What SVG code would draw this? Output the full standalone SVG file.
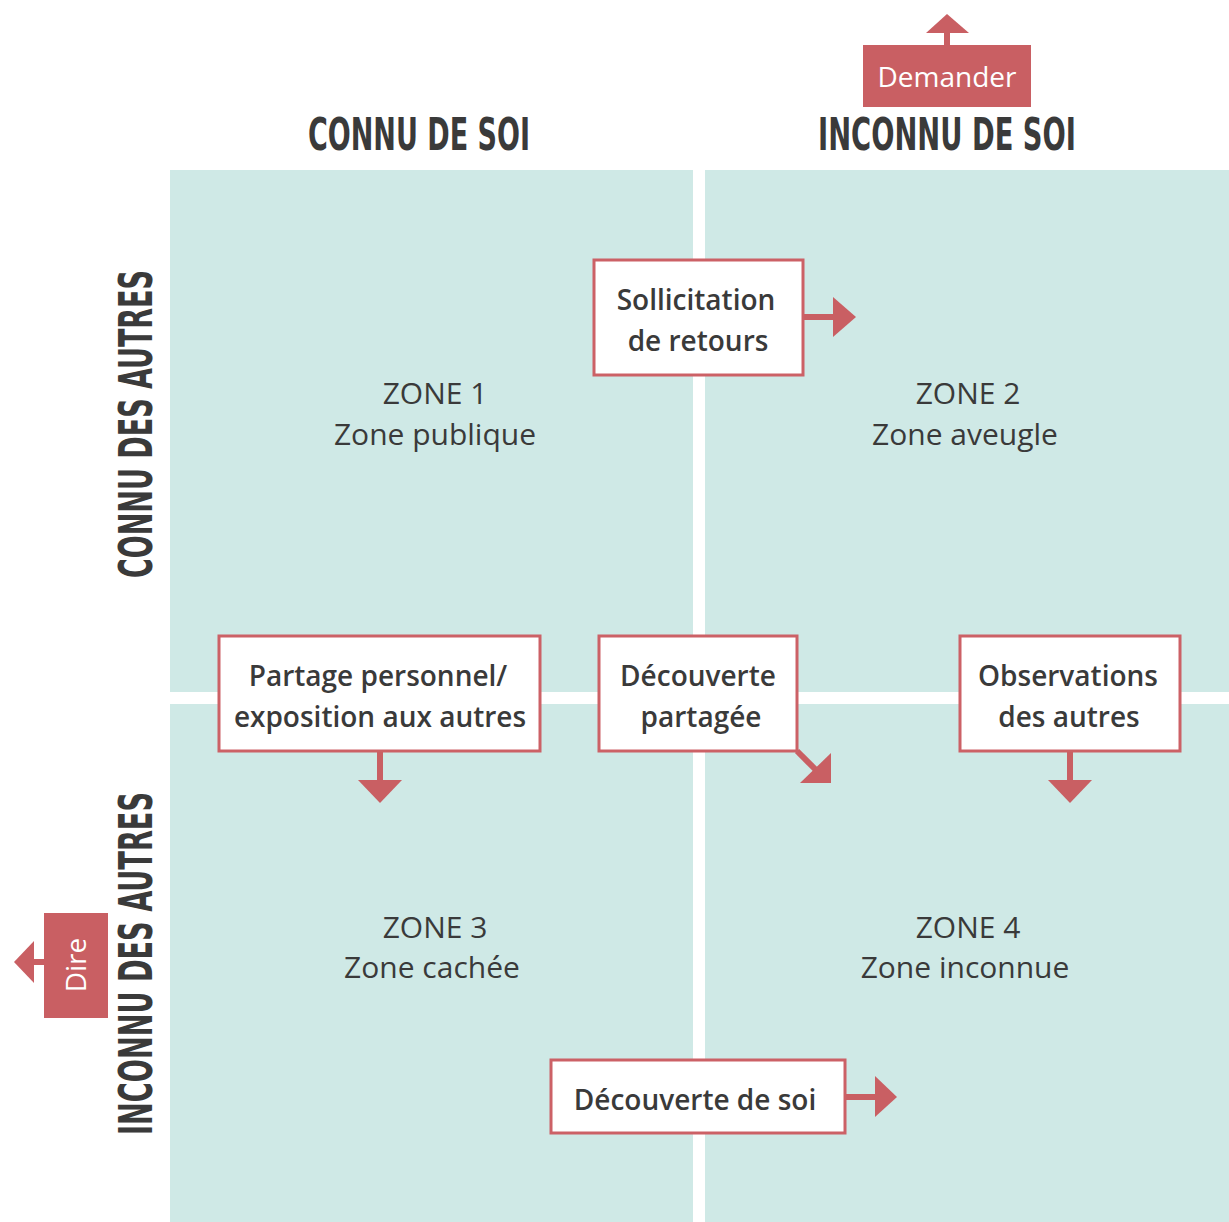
<svg xmlns="http://www.w3.org/2000/svg" width="1229" height="1222" viewBox="0 0 1229 1222">
<style>
.q{fill:#cfe9e6}
.hd{font-family:"DejaVu Sans Condensed","Liberation Sans Narrow","DejaVu Sans",sans-serif;font-weight:bold;fill:#3a3a3a}
.zt{font-family:"Open Sans","Noto Sans",sans-serif;font-size:30px;fill:#3a3a3a;text-anchor:middle}
.bx{fill:#fff;stroke:#cc6166;stroke-width:3}
.bt{font-family:"Open Sans","Noto Sans",sans-serif;font-size:28px;font-weight:600;fill:#3a3a3a;text-anchor:middle}
.ln{stroke:#c95f63;stroke-width:6;fill:none}
.ah{fill:#c95f63}
.tag{fill:#c95f63}
.tt{font-family:"Open Sans","Noto Sans",sans-serif;font-size:28px;fill:#fff;text-anchor:middle}
</style>
<rect width="1229" height="1222" fill="#fff"/>
<g id="quadrants">
<rect class="q" x="170" y="170" width="523" height="522"/>
<rect class="q" x="705" y="170" width="524" height="522"/>
<rect class="q" x="170" y="704" width="523" height="518"/>
<rect class="q" x="705" y="704" width="524" height="518"/>
</g>
<g id="headers">
<text class="hd" x="308" y="150" font-size="45" textLength="222" lengthAdjust="spacingAndGlyphs">CONNU DE SOI</text>
<text class="hd" x="818" y="150" font-size="45" textLength="258" lengthAdjust="spacingAndGlyphs">INCONNU DE SOI</text>
<text class="hd" transform="translate(152,578) rotate(-90)" font-size="47" textLength="308" lengthAdjust="spacingAndGlyphs">CONNU DES AUTRES</text>
<text class="hd" transform="translate(152,1135) rotate(-90)" font-size="47" textLength="343" lengthAdjust="spacingAndGlyphs">INCONNU DES AUTRES</text>
</g>
<g id="zone1"><text class="zt" x="435" y="404">ZONE 1</text><text class="zt" x="435" y="445">Zone publique</text></g>
<g id="zone2"><text class="zt" x="968" y="404">ZONE 2</text><text class="zt" x="965" y="445">Zone aveugle</text></g>
<g id="zone3"><text class="zt" x="435" y="938">ZONE 3</text><text class="zt" x="432" y="978">Zone cachée</text></g>
<g id="zone4"><text class="zt" x="968" y="938">ZONE 4</text><text class="zt" x="965" y="978">Zone inconnue</text></g>
<g id="connectors">
<line class="ln" x1="803" y1="317" x2="835" y2="317"/>
<polygon class="ah" points="833,297 856,317 833,337"/>
<line class="ln" x1="380" y1="751" x2="380" y2="782"/>
<polygon class="ah" points="358,780 402,780 380,803"/>
<line class="ln" x1="797" y1="751" x2="818" y2="772"/>
<polygon class="ah" points="831,753 831,783 800,783"/>
<line class="ln" x1="1070" y1="751" x2="1070" y2="782"/>
<polygon class="ah" points="1048,780 1092,780 1070,803"/>
<line class="ln" x1="845" y1="1097" x2="877" y2="1097"/>
<polygon class="ah" points="875,1076 897,1097 875,1117"/>
<line class="ln" x1="947" y1="46" x2="947" y2="31"/>
<polygon class="ah" points="926,33 969,33 947,14"/>
<line class="ln" x1="45" y1="962" x2="32" y2="962"/>
<polygon class="ah" points="34,941 34,983 14,962"/>
</g>
<g id="sollicitation"><rect class="bx" x="594" y="260" width="209" height="115"/><text class="bt" x="696" y="310">Sollicitation</text><text class="bt" x="698" y="351">de retours</text></g>
<g id="partage"><rect class="bx" x="219" y="636" width="321" height="115"/><text class="bt" x="378" y="686">Partage personnel/</text><text class="bt" x="380" y="727">exposition aux autres</text></g>
<g id="decouverte-partagee"><rect class="bx" x="599" y="636" width="198" height="115"/><text class="bt" x="698" y="686">Découverte</text><text class="bt" x="701" y="727">partagée</text></g>
<g id="observations"><rect class="bx" x="960" y="636" width="220" height="115"/><text class="bt" x="1068" y="686">Observations</text><text class="bt" x="1069" y="727">des autres</text></g>
<g id="decouverte-soi"><rect class="bx" x="551" y="1060" width="294" height="73"/><text class="bt" x="695" y="1110">Découverte de soi</text></g>
<g id="demander"><rect class="tag" x="863" y="45" width="168" height="62"/><text class="tt" x="947" y="87">Demander</text></g>
<g id="dire"><rect class="tag" x="44" y="913" width="64" height="105"/><text class="tt" transform="translate(86,965) rotate(-90)">Dire</text></g>
</svg>
